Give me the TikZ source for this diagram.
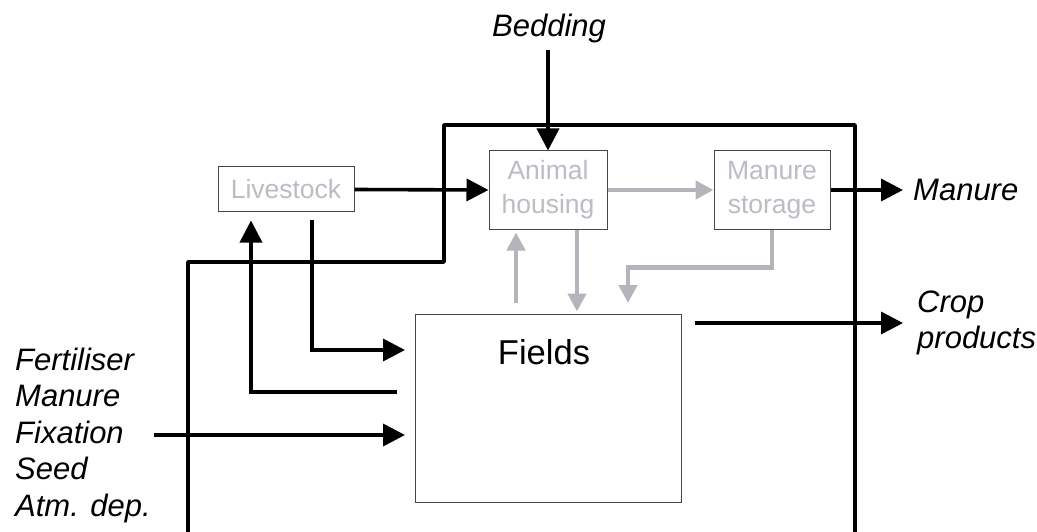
\documentclass[tikz,border=0pt]{standalone}
\usepackage{fontspec}
\setmainfont{Liberation Sans}
\usetikzlibrary{arrows.meta}
\definecolor{boxtext}{RGB}{188,188,196}
\definecolor{flowgray}{RGB}{180,180,186}
\definecolor{boxline}{RGB}{70,70,70}

\tikzset{
  proc/.style={draw=boxline, line width=1pt, text=boxtext, fill=white,
    font=\fontsize{26.5}{34}\selectfont, align=center, inner sep=0pt},
  flow/.style={line width=3.6pt, -{Triangle[length=22pt,width=22pt]}},
  gflow/.style={line width=4.5pt, draw=flowgray, -{Triangle[length=18pt,width=18pt]}},
  lbl/.style={font=\fontsize{31}{36.5}\selectfont\itshape, inner sep=0pt, align=left},
  border/.style={line width=3.6pt, line join=round}
}

\begin{document}
\begin{tikzpicture}[x=1pt, y=-1pt]
  \useasboundingbox (0,0) rectangle (1037,532);

  % farm boundary
  \draw[border] (188,532) -- (188,262) -- (444,262) -- (444,125) -- (855,125) -- (855,532);

  % process boxes
  \node[proc, minimum width=136pt, minimum height=45pt] (live) at (286,189.5) {Livestock};
  \node[proc, minimum width=118pt, minimum height=78pt] (house) at (548,190) {Animal\\housing};
  \node[proc, minimum width=116pt, minimum height=78pt] (store) at (772,190) {Manure\\storage};
  \node[draw=boxline, line width=1pt, minimum width=266pt, minimum height=188pt, inner sep=0pt] (fields) at (548,408) {};
  \node[font=\fontsize{34.5}{40}\selectfont, inner sep=0pt] (fieldsname) at (544,352) {Fields};

  % external labels
  \node[lbl] (bedding) at (549,28) {Bedding};
  \node[lbl, anchor=west] (manure) at (913,190) {Manure};
  \node[lbl, anchor=west] (crop) at (917,323) {Crop\\products};
  \node[lbl, anchor=west] (inputs) at (15,435) {Fertiliser\\Manure\\Fixation\\Seed\\Atm. dep.};

  % free ends of connectors
  \coordinate (bedtop) at (548,50);
  \coordinate (manend) at (903,190);
  \coordinate (cropstart) at (695,323);
  \coordinate (cropend) at (903,323);
  \coordinate (inpstart) at (154,435);
  \coordinate (inpend) at (405,435);
  \coordinate (feedstart) at (397,392);
  \coordinate (dungend) at (405,350);
  \coordinate (gup) at (516,303);
  \coordinate (gdn) at (577,0);
  \coordinate (gstore) at (628,303);

  % black flows
  \draw[flow] (bedtop) -- (house.north);
  \draw[flow] (live.east) -- (house.west);
  \draw[flow] (store.east) -- (manend);
  \draw[flow] (cropstart) -- (cropend);
  \draw[flow] (inpstart) -- (inpend);
  \draw[flow, shorten >=8pt] (feedstart) -| ([xshift=-35pt]live.south);
  \draw[flow] ([xshift=26pt, yshift=-8pt]live.south) |- (dungend);

  % grey flows
  \draw[gflow] (house.east) -- (store.west);
  \draw[gflow, shorten >=3pt] (gup) -- (gup |- house.south);
  \draw[gflow, shorten >=2pt] (gdn |- house.south) -- (gdn |- fields.north);
  \draw[gflow] (store.south) -- ++(0,38) -| (gstore);
\end{tikzpicture}
\end{document}
